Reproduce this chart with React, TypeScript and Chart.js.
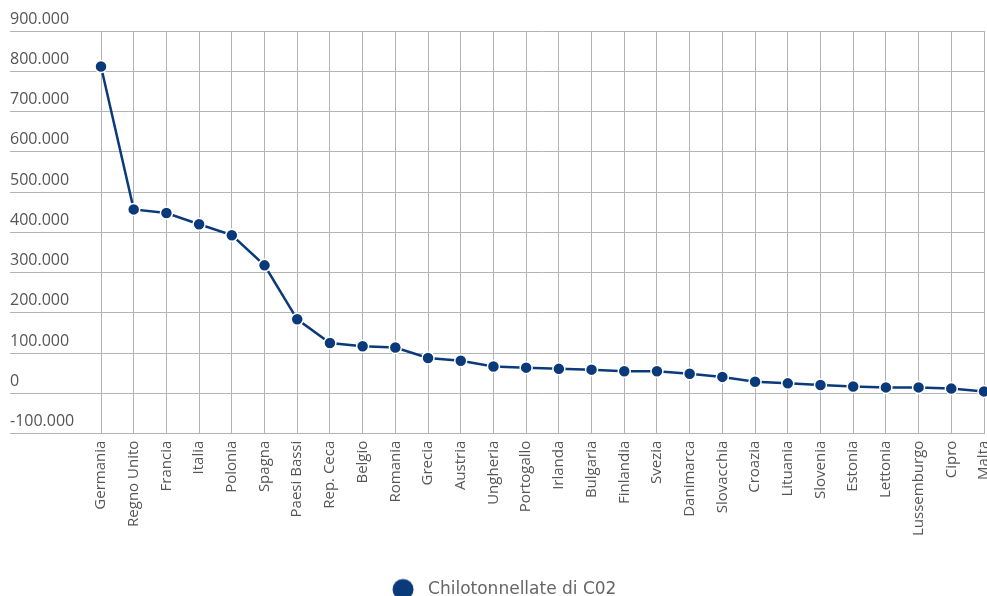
import React, { useEffect, useRef } from "react";
import { Chart, registerables } from "chart.js";

Chart.register(...registerables);

const countries = [
  "Germania", "Regno Unito", "Francia", "Italia", "Polonia", "Spagna", "Paesi Bassi",
  "Rep. Ceca", "Belgio", "Romania", "Grecia", "Austria", "Ungheria", "Portogallo",
  "Irlanda", "Bulgaria", "Finlandia", "Svezia", "Danimarca", "Slovacchia", "Croazia",
  "Lituania", "Slovenia", "Estonia", "Lettonia", "Lussemburgo", "Cipro", "Malta",
];

const co2Kt = [
  812000, 457000, 448000, 420000, 393000, 318000, 184000,
  125000, 117000, 114000, 88000, 81000, 67000, 64000,
  61000, 59000, 55000, 55000, 49000, 41000, 29000,
  25000, 21000, 17000, 15000, 15000, 12000, 5000,
];

const seriesName = "Chilotonnellate di C02";
const yMin = -100000;
const yMax = 900000;
const yStep = 100000;

const fmt = (v: number) => {
  const s = Math.abs(Math.round(v)).toString().replace(/\B(?=(\d{3})+(?!\d))/g, ".");
  return (v < 0 ? "-" : "") + s;
};

function legendDot(color: string) {
  const c = document.createElement("canvas");
  c.width = 40;
  c.height = 24;
  const ctx = c.getContext("2d");
  if (ctx) {
    ctx.fillStyle = color;
    ctx.beginPath();
    ctx.arc(12, 12, 10.5, 0, Math.PI * 2);
    ctx.fill();
  }
  return c;
}

export default function App() {
  const ref = useRef<HTMLCanvasElement | null>(null);
  useEffect(() => {
    if (!ref.current) return;
    const navy = "#0b3a7a";
    const grid = "#b4b4b4";
    const chart = new Chart(ref.current, {
      type: "line",
      data: {
        labels: countries,
        datasets: [
          {
            label: seriesName,
            data: co2Kt,
            borderColor: navy,
            backgroundColor: navy,
            borderWidth: 2.5,
            pointRadius: 6,
            pointHoverRadius: 6,
            pointBackgroundColor: navy,
            pointBorderColor: "#ffffff",
            pointBorderWidth: 1.5,
            tension: 0,
          },
        ],
      },
      options: {
        animation: false,
        responsive: true,
        maintainAspectRatio: false,
        layout: { padding: { left: 2, right: 0, top: 23, bottom: 0 } },
        plugins: {
          tooltip: { enabled: false },
          legend: {
            position: "bottom",
            labels: {
              usePointStyle: true,
              pointStyle: legendDot(navy) as any,
              color: "#666666",
              padding: 10,
              font: { family: "'DejaVu Sans'", size: 17 },
            },
          },
        },
        scales: {
          x: {
            grid: { color: grid, lineWidth: 1, drawTicks: false },
            border: { color: grid },
            ticks: {
              color: "#555555",
              font: { family: "'Open Sans'", size: 15 },
              minRotation: 90,
              maxRotation: 90,
              autoSkip: false,
              padding: 7,
            },
            afterFit: (s: any) => {
              s.height += 28;
            },
          },
          y: {
            min: yMin,
            max: yMax,
            grid: { color: grid, lineWidth: 1, drawTicks: true, tickLength: 91 },
            border: { display: false },
            ticks: {
              stepSize: yStep,
              color: "#555555",
              font: { family: "'Open Sans'", size: 16 },
              crossAlign: "far",
              labelOffset: -12,
              padding: 0,
              callback: (v: any) => fmt(Number(v)),
            },
            afterFit: (s: any) => {
              s.width = 91;
            },
          },
        },
      },
    });
    return () => chart.destroy();
  }, []);
  return (
    <div
      style={{
        position: "fixed",
        left: 8,
        top: 8,
        width: 979,
        height: 588,
        overflow: "hidden",
        background: "#ffffff",
      }}
    >
      <div style={{ position: "relative", width: 1001, height: 600 }}>
        <canvas ref={ref} />
      </div>
    </div>
  );
}
